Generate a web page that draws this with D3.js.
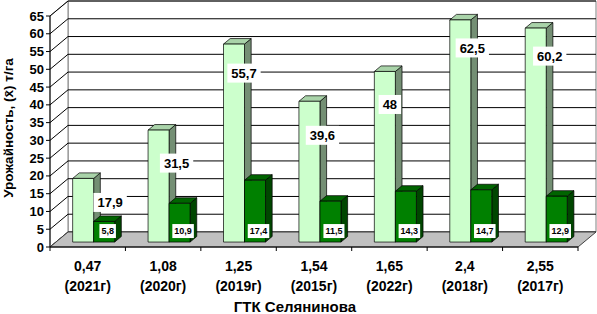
<!DOCTYPE html>
<html>
<head>
<meta charset="utf-8">
<script src="https://cdn.jsdelivr.net/npm/d3@7"></script>
<style>
  body { margin: 0; background: #fff; }
  svg { font-family: "Liberation Sans", Arial, sans-serif; }
</style>
</head>
<body>
<div id="chart"></div>
<script>
// values
const categories = ["0,47", "1,08", "1,25", "1,54", "1,65", "2,4", "2,55"];
const years = ["(2021г)", "(2020г)", "(2019г)", "(2015г)", "(2022г)", "(2018г)", "(2017г)"];
const series1 = [17.9, 31.5, 55.7, 39.6, 48, 62.5, 60.2];
const series2 = [5.8, 10.9, 17.4, 11.5, 14.3, 14.7, 12.9];
const yTicks = [0, 5, 10, 15, 20, 25, 30, 35, 40, 45, 50, 55, 60, 65];

// hand-placed label nudges of the original (layout only)
const labelNudgeX = [15, 6, -2, 1, -7, 0, 2];
const labelNudgeY = [-6, 3, -1, 4, 3, -2, -2];

const width = 597, height = 314;
const plot = {left: 50, right: 578, top: 16, bottom: 247};
const depth = {dx: 18, dy: -15};
const barFront = 0.33, barBack = 0.70;

const svg = d3.select("#chart").append("svg")
    .attr("width", width)
    .attr("height", height);

// scales
const x = d3.scaleBand().domain(categories).range([plot.left, plot.right]).padding(0);
const x1 = d3.scaleBand().domain(["s1", "s2"]).range([0, x.bandwidth()])
    .paddingInner(0).paddingOuter(0.795);
const y = d3.scaleLinear().domain([0, 65]).range([plot.bottom, plot.top]);

// oblique projection: f = 0 front, f = 1 back wall
function proj(px, py, f) {
    return [px + depth.dx * f, py + depth.dy * f];
}
function pts(list) {
    return list.map(p => p.join(",")).join(" ");
}

// walls
svg.append("polygon")
    .attr("points", pts([proj(plot.left, y(65), 1), proj(plot.right, y(65), 1),
                         proj(plot.right, y(0), 1), proj(plot.left, y(0), 1)]))
    .attr("fill", "#fff").attr("stroke", "#808080");
svg.append("polygon")
    .attr("points", pts([[plot.left, y(65)], proj(plot.left, y(65), 1),
                         proj(plot.left, y(0), 1), [plot.left, y(0)]]))
    .attr("fill", "#fff").attr("stroke", "#808080");

// gridlines (left wall + back wall)
const grid = svg.append("g").attr("stroke", "#000").attr("fill", "none");
yTicks.forEach(t => {
    grid.append("polyline")
        .attr("points", pts([[plot.left, y(t)], proj(plot.left, y(t), 1), proj(plot.right, y(t), 1)]));
});

// floor
svg.append("polygon")
    .attr("points", pts([[plot.left, y(0)], [plot.right, y(0)],
                         proj(plot.right, y(0), 1), proj(plot.left, y(0), 1)]))
    .attr("fill", "#c0c0c0").attr("stroke", "#404040");

// y axis
const yAxis = svg.append("g");
yAxis.append("line")
    .attr("x1", plot.left).attr("x2", plot.left)
    .attr("y1", y(0)).attr("y2", y(65))
    .attr("stroke", "#000");
yAxis.selectAll(".tick")
    .data(yTicks)
    .enter().append("line")
    .attr("x1", plot.left - 4).attr("x2", plot.left)
    .attr("y1", d => y(d)).attr("y2", d => y(d))
    .attr("stroke", "#000");
yAxis.selectAll("text")
    .data(yTicks)
    .enter().append("text")
    .attr("x", plot.left - 6)
    .attr("y", d => y(d))
    .attr("dy", "0.35em")
    .attr("text-anchor", "end")
    .attr("font-size", 13)
    .attr("font-weight", "bold")
    .text(d => d);

// x axis ticks and labels
const xAxis = svg.append("g");
xAxis.append("line")
    .attr("x1", plot.left).attr("x2", plot.right)
    .attr("y1", y(0)).attr("y2", y(0))
    .attr("stroke", "#000");
xAxis.selectAll(".tick")
    .data(categories.concat(["end"]))
    .enter().append("line")
    .attr("x1", (d, i) => plot.left + i * x.step())
    .attr("x2", (d, i) => plot.left + i * x.step())
    .attr("y1", y(0)).attr("y2", y(0) + 4)
    .attr("stroke", "#000");
const catLabel = xAxis.selectAll(".cat")
    .data(categories)
    .enter().append("text")
    .attr("text-anchor", "middle")
    .attr("font-size", 14)
    .attr("font-weight", "bold")
    .attr("x", d => x(d) + x.bandwidth() / 2);
catLabel.append("tspan").attr("y", 271).text(d => d);
catLabel.append("tspan")
    .attr("x", d => x(d) + x.bandwidth() / 2)
    .attr("y", 291).text((d, i) => years[i]);

// 3D columns
const styles = {
    s1: {front: "#ccffcc", side: "#748f74", top: "#a9d3a9"},
    s2: {front: "#008000", side: "#004600", top: "#006400"}
};
const bars = svg.append("g").attr("stroke", "#000").attr("stroke-width", 0.7);

function drawBar(cat, key, v) {
    const xl = x(cat) + x1(key), xr = xl + x1.bandwidth();
    const yt = y(v), yb = y(0);
    const st = styles[key];
    bars.append("polygon")
        .attr("points", pts([proj(xr, yt, barFront), proj(xr, yt, barBack),
                             proj(xr, yb, barBack), proj(xr, yb, barFront)]))
        .attr("fill", st.side);
    bars.append("polygon")
        .attr("points", pts([proj(xl, yt, barFront), proj(xr, yt, barFront),
                             proj(xr, yt, barBack), proj(xl, yt, barBack)]))
        .attr("fill", st.top);
    bars.append("polygon")
        .attr("points", pts([proj(xl, yt, barFront), proj(xr, yt, barFront),
                             proj(xr, yb, barFront), proj(xl, yb, barFront)]))
        .attr("fill", st.front);
}

categories.forEach((c, i) => {
    drawBar(c, "s1", series1[i]);
    drawBar(c, "s2", series2[i]);
});

const fmt = v => String(v).replace(".", ",");

// data labels, series 1
const lab1 = svg.append("g");
categories.forEach((c, i) => {
    const p = proj(x(c) + x1("s1") + x1.bandwidth() / 2, y(series1[i]), barFront);
    const cx = p[0] + 12 + labelNudgeX[i];
    const cy = p[1] + 30 + labelNudgeY[i];
    const t = lab1.append("text")
        .attr("x", cx).attr("y", cy).attr("dy", "0.36em")
        .attr("text-anchor", "middle")
        .attr("font-size", 13).attr("font-weight", "bold")
        .text(fmt(series1[i]));
    const w = t.node().getComputedTextLength() + 8;
    lab1.insert("rect", "text")
        .attr("x", cx - w / 2).attr("y", cy - 9.5)
        .attr("width", w).attr("height", 19)
        .attr("fill", "#fff");
});

// data labels, series 2
const lab2 = svg.append("g");
categories.forEach((c, i) => {
    const p = proj(x(c) + x1("s2") + x1.bandwidth() / 2, y(0), barFront);
    const cx = p[0] + 3.5;
    const cy = p[1] - 11;
    const t = lab2.append("text")
        .attr("x", cx).attr("y", cy).attr("dy", "0.36em")
        .attr("text-anchor", "middle")
        .attr("font-size", 9).attr("font-weight", "bold")
        .text(fmt(series2[i]));
    const w = t.node().getComputedTextLength() + 4;
    lab2.insert("rect", "text")
        .attr("x", cx - w / 2).attr("y", cy - 7)
        .attr("width", w).attr("height", 14)
        .attr("fill", "#fff");
});

// axis titles
svg.append("text")
    .attr("x", 295)
    .attr("y", 312)
    .attr("text-anchor", "middle")
    .attr("font-size", 15)
    .attr("font-weight", "bold")
    .text("ГТК Селянинова");

svg.append("text")
    .attr("transform", "translate(13," + 128 + ") rotate(-90)")
    .attr("text-anchor", "middle")
    .attr("font-size", 13.5)
    .attr("font-weight", "bold")
    .text("Урожайность, (x\u0304) т/га");
</script>
</body>
</html>
